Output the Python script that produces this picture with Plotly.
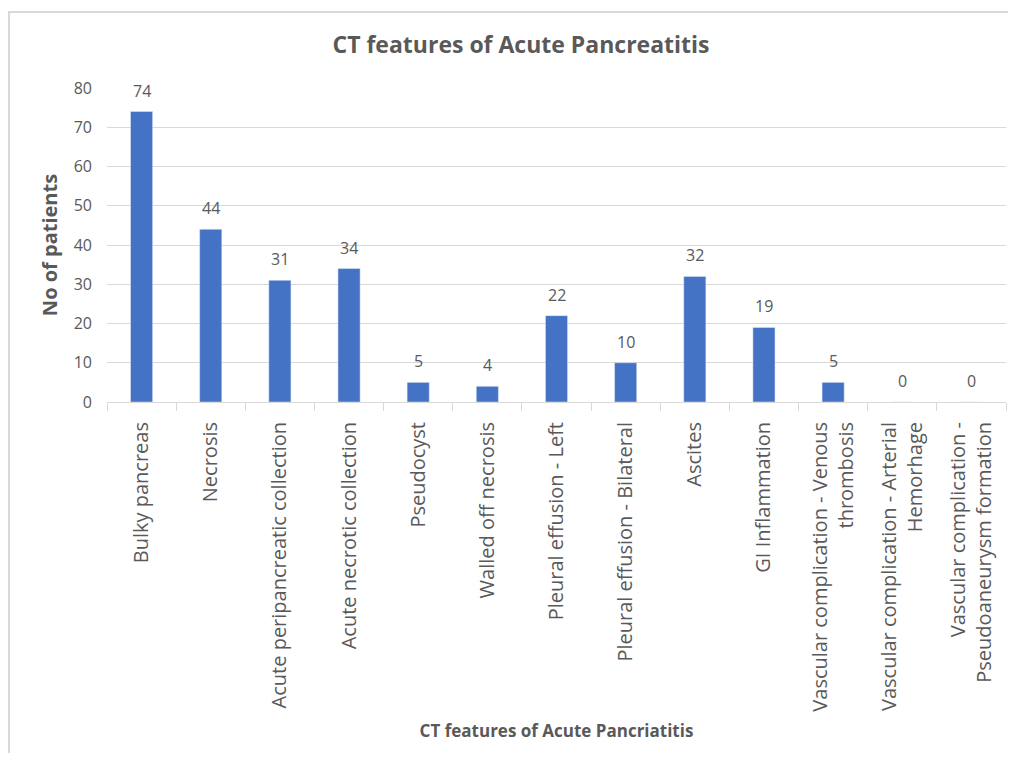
import plotly.graph_objects as go

categories = [
    "Bulky pancreas",
    "Necrosis",
    "Acute peripancreatic collection",
    "Acute necrotic collection",
    "Pseudocyst",
    "Walled off necrosis",
    "Pleural effusion - Left",
    "Pleural effusion - Bilateral",
    "Ascites",
    "GI Inflammation",
    "Vascular complication - Venous<br>thrombosis",
    "Vascular complication - Arterial<br>Hemorhage",
    "Vascular complication -<br>Pseudoaneurysm formation",
]
values = [74, 44, 31, 34, 5, 4, 22, 10, 32, 19, 5, 0, 0]
yticks = [0, 10, 20, 30, 40, 50, 60, 70, 80]

FONT = "Open Sans"
GREY = "#595959"
W, H = 1000, 745

fig = go.Figure(
    go.Bar(
        x=categories,
        y=values,
        marker_color="#4472C4",
        width=0.32,
        hoverinfo="x+y",
    )
)

for c, v in zip(categories, values):
    fig.add_annotation(
        x=c, y=v, xref="x", yref="y",
        text=str(v), showarrow=False,
        yanchor="bottom", yshift=8,
        font=dict(family=FONT, size=16, color=GREY),
    )

pl, pr, pt, pb = 99, 2, 80, 351
pw = W - pl - pr
ph = H - pt - pb

fig.update_layout(
    width=W,
    height=H,
    paper_bgcolor="white",
    plot_bgcolor="white",
    margin=dict(l=pl, r=pr, t=pt, b=pb),
    showlegend=False,
    title=dict(
        text="<b>CT features of Acute Pancreatitis</b>",
        xref="paper",
        x=0.5 - (pl - W / 2 + 8 - (pl + pw / 2) + W / 2) / pw * 0 + (513 - (pl + pw / 2)) / pw,
        xanchor="center",
        y=1 - 37 / H,
        yanchor="middle",
        font=dict(family=FONT, size=23, color=GREY),
    ),
    shapes=[
        dict(type="line", xref="paper", yref="paper", x0=-pl / pw, x1=1.1,
             y0=1 + (pt - 4) / ph, y1=1 + (pt - 4) / ph,
             line=dict(color="#D9D9D9", width=2)),
        dict(type="line", xref="paper", yref="paper", x0=-(pl - 1) / pw, x1=-(pl - 1) / pw,
             y0=1 + (pt - 4) / ph, y1=-pb / ph,
             line=dict(color="#D9D9D9", width=2)),
    ],
)

fig.update_xaxes(
    type="category",
    tickangle=-90,
    tickfont=dict(family=FONT, size=20, color=GREY),
    showline=True,
    linecolor="#D9D9D9",
    linewidth=1,
    showgrid=False,
    ticks="outside",
    tickson="boundaries",
    ticklen=8,
    tickcolor="#D9D9D9",
    ticklabelstandoff=11,
    title=dict(
        text="<b>CT features of Acute Pancriatitis</b>",
        font=dict(family=FONT, size=17, color=GREY),
        standoff=14,
    ),
    automargin=False,
)

fig.update_yaxes(
    range=[0, 80],
    tickvals=yticks,
    tickfont=dict(family=FONT, size=16, color=GREY),
    showgrid=True,
    gridcolor="#D9D9D9",
    gridwidth=1,
    zeroline=False,
    showline=False,
    ticklabelstandoff=14,
    title=dict(
        text="<b>No of patients</b>",
        font=dict(family=FONT, size=20, color=GREY),
        standoff=10,
    ),
    automargin=False,
)

fig.write_html("out.html")
